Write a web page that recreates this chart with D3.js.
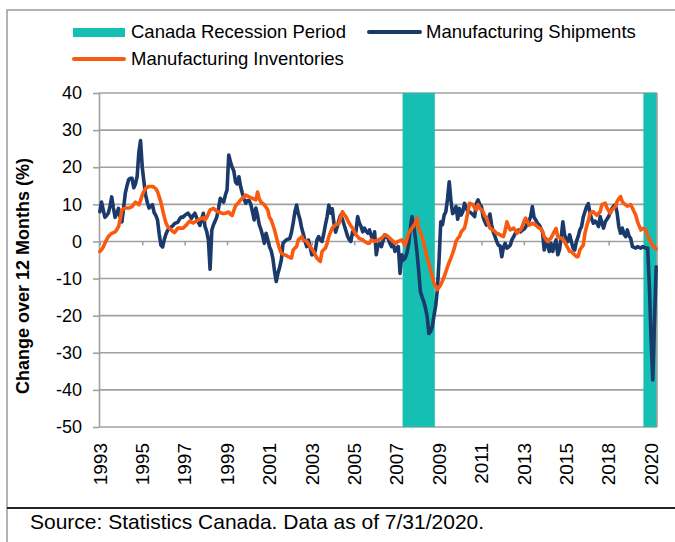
<!DOCTYPE html>
<html>
<head>
<meta charset="utf-8">
<script src="https://cdn.jsdelivr.net/npm/d3@7"></script>
<style>
  body { margin: 0; background: #fff; }
  svg { display: block; }
  text { font-family: "Liberation Sans", Arial, sans-serif; fill: #000; }
</style>
</head>
<body>
<svg id="chart" width="675" height="542"></svg>
<script>
// ---- data (monthly, y/y % change, from Jan 1993) ----
const startYear = 1993;

const shipments = [
  8, 10.6, 8.5, 6.5, 7, 7.6, 9.5, 12, 9, 6.5, 7.5, 8.9,            // 1993
  6.5, 5.3, 9, 13, 15, 16.7, 17, 17, 14.5, 15.5, 17.5, 24,          // 1994
  27.2, 20, 16, 12.5, 10.5, 9, 9.5, 9.9, 7.8, 7, 5.8, 2,            // 1995
  -1, -1.5, 0.5, 2, 3, 3.5, 3.9, 4.2, 4.8, 5, 5.2, 6,               // 1996
  6.6, 6.5, 7, 7.3, 7.6, 7, 6.2, 7, 7.6, 6.5, 5.2, 4.3,             // 1997
  6, 7.6, 4, 2.7, 0.4, -7.5, 3, 4.5, 5.5, 6.7, 9, 11.6,             // 1998
  11, 10.6, 12.5, 13.9, 23.3, 21.5, 20, 19, 16, 15.5, 17.4, 14.8,   // 1999
  13, 11.5, 10.3, 11, 11, 10, 8, 5.8, 9, 7, 4.5, 3.2,               // 2000
  1.5, -0.5, 2.2, 0.5, -1.4, -2.5, -4.5, -8, -10.8, -8.6, -7, -5,   // 2001
  -0.5, 0, 0.4, 0.6, 0.8, 2.5, 5, 8, 9.8, 7.5, 6, 3.6,              // 2002
  2, 0, -1.4, 0.4, -1.5, -3.6, -3.5, -2.5, 0.4, 1.3, 0.4, 0,        // 2003
  2, 4.5, 6.7, 9.8, 7.6, 8.8, 5, 2.5, 4, 5.8, 7.1, 6,               // 2004
  4.5, 3, 1.5, 0.5, 0, 2.6, 2, 2.6, 6.7, 5, 4, 2.6,                 // 2005
  3.6, 2.8, 2.2, 3.1, 1.5, 0.4, 2.6, -3.6, -1, -0.5, -1.4, 0.2,     // 2006
  1.8, 1.2, 0.8, -0.5, -1.4, -0.5, -2.7, -1.8, -1.4, -8.6, -3.6, -5, // 2007
  -4.5, -3.2, -1, 3.1, 6.7, 4.5, 1, -3, -8, -13.5, -15, -16.2,      // 2008
  -18, -20.3, -24.8, -24.3, -23, -20, -17.4, -13, -5, 5.3, 4.5, 7.1, // 2009
  8, 11.5, 16.1, 11, 7.5, 8, 9.4, 6, 8.9, 7.1, 8, 10.3,             // 2010
  9, 8, 8, 7.6, 7.2, 6.7, 10.3, 11.2, 10, 9.4, 6.5, 5.3,            // 2011
  4.4, 6, 7.4, 4.4, 2.5, 1.3, 0, -1, -1.2, -4.1, -1.5, -0.5,        // 2012
  -1.8, -1.5, -1, 0.5, 1.3, 2.2, 2.7, 3.1, 2.6, 3, 3.3, 3.8,        // 2013
  4.9, 5.5, 6.7, 9.4, 6.5, 5.8, 4.9, 4.5, 3.6, 2.5, -2.3, 0.8,      // 2014
  -1, -2.7, -0.5, -2.7, -1, 0.4, -3.6, -2.3, 1, 5.3, 1.8, 0.5,      // 2015
  0, 1.8, 0, -1.8, -2.3, 0, 1.3, 3.1, 4, 6.5, 8, 9.4,               // 2016
  10.2, 7.6, 6, 4.9, 5.5, 5, 4, 6.7, 5, 3.6, 5.3, 6,                // 2017
  6.7, 8, 8.9, 9.5, 9.9, 7.6, 4, 2.2, 3.6, 2, 1.3, 3.1,             // 2018
  1.5, 0.8, -1.4, -1.6, -1.8, -1.4, -1.6, -1.8, -1.4, -1.6, -1.8, -1.8, // 2019
  -12, -26, -37.3, -22, -6.8                                        // 2020
];

const inventories = [
  -2.7, -2.2, -1.5, -0.5, 0.5, 1.3, 1.8, 2.2, 2.4, 2.6, 3.2, 4,     // 1993
  6, 8.5, 8.8, 9, 9, 9, 9.2, 9.4, 10, 10.6, 10.2, 9.9,              // 1994
  11, 12.5, 13.5, 14.3, 14.6, 14.8, 14.8, 14.8, 14.6, 14.2, 13.4, 12, // 1995
  10.6, 8.5, 6.6, 5, 4, 3.5, 3.1, 2.7, 2.4, 3, 3.6, 3.6,            // 1996
  3.6, 3.6, 4, 4.4, 5, 5.5, 5.2, 5, 5.3, 5.5, 5.8, 6,               // 1997
  6.2, 6.4, 5.8, 6.4, 7.5, 8.5, 8.7, 8.9, 8.5, 8.2, 7.9, 7.8,       // 1998
  7.6, 7.5, 7.6, 7.8, 7.9, 7.3, 7, 8.3, 9.6, 10.1, 10.6, 11.2,      // 1999
  11.6, 12, 12.5, 12.3, 12, 11.8, 11.6, 11.4, 11.2, 13.3, 11.5, 10.6, // 2000
  10.2, 9.9, 9.2, 8.5, 6.5, 5.8, 4.5, 3.1, 1.3, -0.5, -2, -3.2,     // 2001
  -3.4, -3.6, -3.8, -4.1, -4.3, -4.5, -2.3, -1.8, -1.4, 0.4, 0.8, 1.3, // 2002
  0.4, 0.2, 0, -0.7, -1.4, -2, -2.7, -3.6, -4.5, -5, -5.4, -2.7,    // 2003
  -2.2, -1.8, -0.5, 1.3, 2.5, 3.6, 4, 4.5, 4.7, 4.9, 6.5, 8,        // 2004
  7.3, 6.7, 5.8, 4.9, 4.2, 3.6, 2.7, 1.8, 1.3, 0.8, 0.6, 0.4,       // 2005
  0, -0.2, -0.5, -0.5, 0.4, 0.2, 0, 0.2, 0.4, 0.6, 0.8, 1.3,        // 2006
  1.8, 1.6, 1.3, 0.8, 0.4, 0, -0.5, -0.2, 0, 0.2, 0.4, -0.3,        // 2007
  -1, 0.6, 2.2, 2.9, 3.6, 4.2, 4.9, 6.3, 3.6, 2.5, 1.3, -0.5,       // 2008
  -2.5, -4.5, -6, -7.7, -9.5, -11.3, -12, -13, -12.3, -11.7, -10.6, -9.5, // 2009
  -8.2, -6.8, -5.6, -4.5, -3.2, -1.8, 0, 0.8, 1.3, 2.5, 3.1, 3.6,   // 2010
  5.5, 8, 10.3, 10.1, 9.9, 9, 8.5, 9.9, 9, 8.5, 8, 6.8,             // 2011
  6.3, 4.9, 3.6, 3.3, 3.1, 2.6, 2.2, 2, 1.8, 1.5, 1.3, 3,           // 2012
  5.3, 4, 3.1, 3.3, 3.6, 3, 2.2, 2.7, 3.1, 4, 5.3, 6.3,             // 2013
  5.5, 4.4, 4.6, 4.9, 4.7, 4.4, 4, 3.6, 3.5, 2.7, 1.3, 0.5,         // 2014
  0, 0.5, 0.9, 1.8, 2.7, 3.5, 1.3, 1, 0.9, 0.5, 0, -1,              // 2015
  -1.8, -2.7, -2.7, -3.2, -3.6, -4.1, -4.1, -2.3, -1.6, -1, 2.2, 4, // 2016
  5.5, 7.6, 7.8, 8, 7.5, 7.1, 7.5, 8, 9.9, 10.1, 10.3, 9,           // 2017
  8.3, 7.6, 8.5, 9, 9.4, 10.8, 11.5, 12.1, 10.8, 10.2, 9.9, 9.5,    // 2018
  9.7, 9.9, 9, 8, 7.1, 5.3, 4.2, 3.1, 3.5, 3.3, 3.1, 1.3,           // 2019
  0.8, -0.5, -1, -1.8, -2                                           // 2020
];

const recessionStart = ["2007-12", "2019-10"];
const recessionEnd = ["2009-06", "2020-05"];

const yTicks = [40, 30, 20, 10, 0, -10, -20, -30, -40, -50];
const xTickLabels = ["1993", "1995", "1997", "1999", "2001", "2003", "2005",
                     "2007", "2009", "2011", "2013", "2015", "2018", "2020"];
const labelEvery = 25; // one label every 25 months

const legendItems = ["Canada Recession Period", "Manufacturing Shipments", "Manufacturing Inventories"];

// ---- helpers ----
function monthIndex(s) {
    const [yy, mm] = s.split("-").map(Number);
    return (yy - startYear) * 12 + (mm - 1);
}

// ---- layout ----
const colors = { band: "#15bfb1", ship: "#1a3a6c", inv: "#f95a10", grid: "#a0a0a0" };
const plot = { left: 99, right: 657, top: 93, bottom: 427 };

const svg = d3.select("#chart");

const x = d3.scaleLinear()
    .domain([-0.5, shipments.length - 0.5])
    .range([plot.left, plot.right]);
const y = d3.scaleLinear()
    .domain([-50, 40])
    .range([plot.bottom, plot.top]);

// outer frame
svg.append("path")
    .attr("d", "M7,542 V10 H675")
    .attr("fill", "none").attr("stroke", "#9a9a9a").attr("stroke-width", 1.5);
svg.append("line")
    .attr("x1", 7).attr("x2", 675).attr("y1", 508).attr("y2", 508)
    .attr("stroke", "#222").attr("stroke-width", 2);

// gridlines
svg.append("g").selectAll("line").data(yTicks).join("line")
    .attr("x1", plot.left).attr("x2", plot.right)
    .attr("y1", d => y(d)).attr("y2", d => y(d))
    .attr("stroke", colors.grid).attr("stroke-width", 1.6);

// recession bands
svg.append("g").selectAll("rect").data(recessionStart).join("rect")
    .attr("x", (d, i) => x(monthIndex(d) - 0.5))
    .attr("width", (d, i) => x(monthIndex(recessionEnd[i]) + 0.5) - x(monthIndex(d) - 0.5))
    .attr("y", plot.top)
    .attr("height", plot.bottom - plot.top)
    .attr("fill", colors.band);

// plot border right
svg.append("line")
    .attr("x1", plot.right).attr("x2", plot.right).attr("y1", plot.top).attr("y2", plot.bottom)
    .attr("stroke", colors.grid).attr("stroke-width", 1.6);

// y axis
const yAxis = svg.append("g")
    .attr("transform", `translate(${plot.left},0)`)
    .call(d3.axisLeft(y).tickValues(yTicks).tickSize(6).tickSizeOuter(0).tickPadding(11)
        .tickFormat(d => String(d)));
yAxis.select(".domain").attr("stroke", colors.grid).attr("stroke-width", 1.6);
yAxis.selectAll(".tick line").attr("stroke", colors.grid).attr("stroke-width", 1.6);
yAxis.selectAll(".tick text")
    .attr("font-size", 18)
    .style("font-family", "'Liberation Sans', Arial, sans-serif")
    .attr("fill", "#000");

// x axis along zero, ticks only
const labelIdx = xTickLabels.map((d, i) => i * labelEvery);
const xAxis = svg.append("g")
    .attr("transform", `translate(0,${y(0)})`)
    .call(d3.axisBottom(x).tickValues(labelIdx).tickSize(4).tickSizeOuter(0).tickFormat(""));
xAxis.select(".domain").remove();
xAxis.selectAll(".tick line").attr("stroke", colors.grid).attr("stroke-width", 1.6);

// x labels at bottom, rotated
svg.append("g").selectAll("text").data(xTickLabels).join("text")
    .attr("transform", (d, i) => `translate(${x(labelIdx[i])},${plot.bottom + 16}) rotate(-90)`)
    .attr("text-anchor", "end")
    .attr("dy", "0.35em")
    .attr("font-size", 19)
    .text(d => d);

// y title
svg.append("text")
    .attr("transform", "translate(23,276) rotate(-90)")
    .attr("text-anchor", "middle")
    .attr("dy", "0.35em")
    .attr("font-size", 18)
    .attr("font-weight", "bold")
    .text("Change over 12 Months (%)");

// lines
const line = d3.line().x((d, i) => x(i)).y(d => y(d));
svg.append("path").datum(shipments)
    .attr("d", line)
    .attr("fill", "none").attr("stroke", colors.ship).attr("stroke-width", 3.6)
    .attr("stroke-linejoin", "round").attr("stroke-linecap", "round");
svg.append("path").datum(inventories)
    .attr("d", line)
    .attr("fill", "none").attr("stroke", colors.inv).attr("stroke-width", 3.6)
    .attr("stroke-linejoin", "round").attr("stroke-linecap", "round");

// legend
const lg = svg.append("g").attr("font-size", 18.5);
lg.append("rect").attr("x", 73).attr("y", 28).attr("width", 52).attr("height", 9).attr("fill", colors.band);
lg.append("text").attr("x", 131).attr("y", 32).attr("dy", "0.35em").text(legendItems[0]);
lg.append("line").attr("x1", 369).attr("x2", 420).attr("y1", 32).attr("y2", 32)
    .attr("stroke", colors.ship).attr("stroke-width", 4).attr("stroke-linecap", "round");
lg.append("text").attr("x", 426).attr("y", 32).attr("dy", "0.35em").text(legendItems[1]);
lg.append("line").attr("x1", 74).attr("x2", 124).attr("y1", 59).attr("y2", 59)
    .attr("stroke", colors.inv).attr("stroke-width", 4).attr("stroke-linecap", "round");
lg.append("text").attr("x", 131).attr("y", 59).attr("dy", "0.35em").text(legendItems[2]);

// source note
svg.append("text")
    .attr("x", 30).attr("y", 522).attr("dy", "0.35em")
    .attr("font-size", 21)
    .text("Source: Statistics Canada. Data as of 7/31/2020.");
</script>
</body>
</html>
